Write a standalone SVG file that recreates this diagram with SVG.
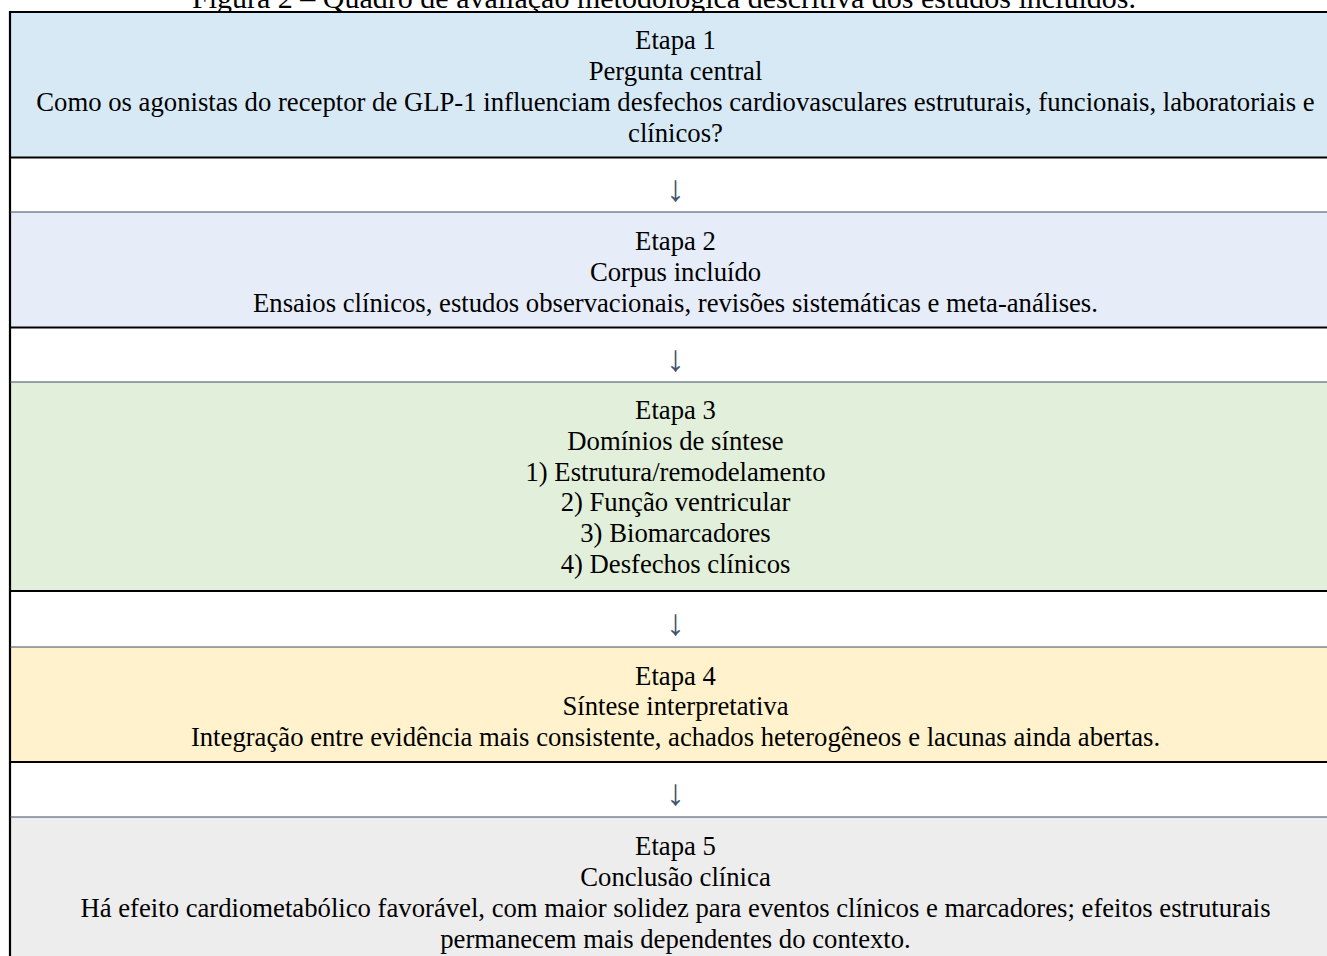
<svg xmlns="http://www.w3.org/2000/svg" width="1327" height="956" viewBox="0 0 1327 956">
<style>
text{font-family:"Liberation Serif","Times New Roman",serif;font-size:26.7px;fill:#000;text-anchor:middle}
.title{font-size:30px}
.arr{fill:#44546A;font-size:37px;font-family:"Liberation Serif","DejaVu Serif",serif}
.thick{stroke:#000;stroke-width:2.2}
.thin{stroke:#3B4A63;stroke-width:1}
</style>
<rect x="0" y="0" width="1327" height="956" fill="#fff"/>
<text class="title" x="664" y="7.5">Figura 2 – Quadro de avaliação metodológica descritiva dos estudos incluídos.</text>

<g id="etapa1">
<rect x="10" y="12" width="1330" height="145" fill="#D8E9F6"/>
<text x="675.5" y="49">Etapa 1</text>
<text x="675.5" y="80">Pergunta central</text>
<text x="675.5" y="111">Como os agonistas do receptor de GLP-1 influenciam desfechos cardiovasculares estruturais, funcionais, laboratoriais e</text>
<text x="675.5" y="142">clínicos?</text>
</g>
<g id="etapa2">
<rect x="10" y="212" width="1330" height="115" fill="#E6ECF8"/>
<text x="675.5" y="250">Etapa 2</text>
<text x="675.5" y="281">Corpus incluído</text>
<text x="675.5" y="312">Ensaios clínicos, estudos observacionais, revisões sistemáticas e meta-análises.</text>
</g>
<g id="etapa3">
<rect x="10" y="382" width="1330" height="209" fill="#E2EFDA"/>
<text x="675.5" y="419">Etapa 3</text>
<text x="675.5" y="450">Domínios de síntese</text>
<text x="675.5" y="480.5">1) Estrutura/remodelamento</text>
<text x="675.5" y="511">2) Função ventricular</text>
<text x="675.5" y="542">3) Biomarcadores</text>
<text x="675.5" y="573">4) Desfechos clínicos</text>
</g>
<g id="etapa4">
<rect x="10" y="647" width="1330" height="115" fill="#FFF2CC"/>
<text x="675.5" y="684.5">Etapa 4</text>
<text x="675.5" y="715">Síntese interpretativa</text>
<text x="675.5" y="746">Integração entre evidência mais consistente, achados heterogêneos e lacunas ainda abertas.</text>
</g>
<g id="etapa5">
<rect x="10" y="817" width="1330" height="145" fill="#EDEDED"/>
<text x="675.5" y="855">Etapa 5</text>
<text x="675.5" y="886">Conclusão clínica</text>
<text x="675.5" y="917">Há efeito cardiometabólico favorável, com maior solidez para eventos clínicos e marcadores; efeitos estruturais</text>
<text x="675.5" y="948">permanecem mais dependentes do contexto.</text>
</g>

<g id="connectors">
<text class="arr" x="675.5" y="201">↓</text>
<text class="arr" x="675.5" y="371">↓</text>
<text class="arr" x="675.5" y="635">↓</text>
<text class="arr" x="675.5" y="805">↓</text>
</g>

<g id="borders">
<line class="thick" x1="9" y1="12" x2="1340" y2="12"/>
<line class="thick" x1="10" y1="11" x2="10" y2="960"/>
<line class="thick" x1="9" y1="157.5" x2="1340" y2="157.5"/>
<line class="thin" x1="10" y1="212" x2="1340" y2="212"/>
<line class="thick" x1="9" y1="327.5" x2="1340" y2="327.5"/>
<line class="thin" x1="10" y1="382" x2="1340" y2="382"/>
<line class="thick" x1="9" y1="591" x2="1340" y2="591"/>
<line class="thin" x1="10" y1="647" x2="1340" y2="647"/>
<line class="thick" x1="9" y1="762" x2="1340" y2="762"/>
<line class="thin" x1="10" y1="817" x2="1340" y2="817"/>
</g>
</svg>
